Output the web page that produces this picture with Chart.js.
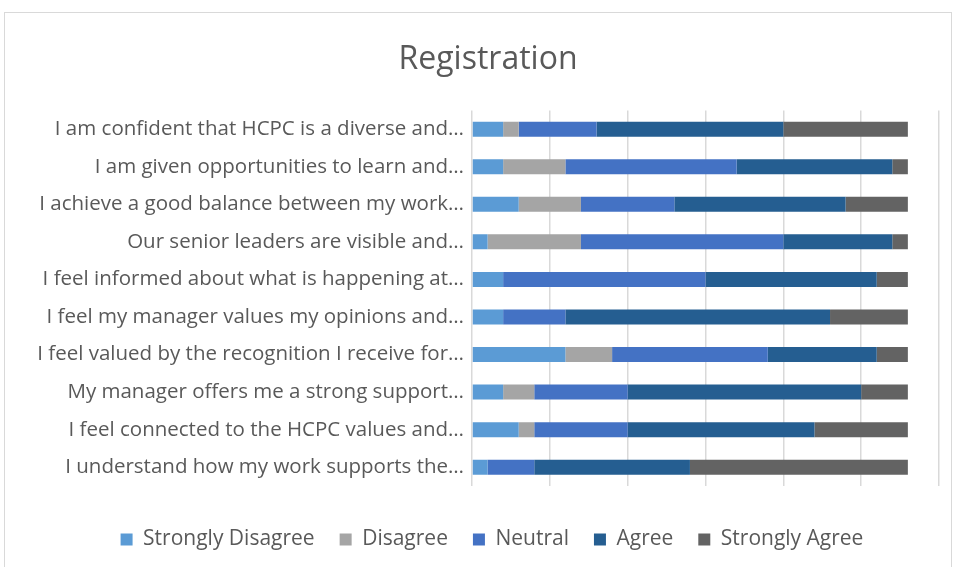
<!DOCTYPE html>
<html>
<head>
<meta charset="utf-8">
<script src="https://cdn.jsdelivr.net/npm/chart.js@4/dist/chart.umd.min.js"></script>
<style>
  html, body { margin: 0; padding: 0; background: #fff; overflow: hidden; }
  #box { position: absolute; left: 4px; top: 12px; width: 948px; height: 560px;
         border: 1px solid #d9d9d9; box-sizing: border-box; background: #fff; }
  #myChart { position: absolute; left: 0; top: 0; }
</style>
</head>
<body>
<div id="box"><canvas id="myChart" width="946" height="558"></canvas></div>
<script>
// Otázky (zkrácené jako v grafu)
const questions = [
    "I am confident that HCPC is a diverse and…",
    "I am given opportunities to learn and…",
    "I achieve a good balance between my work…",
    "Our senior leaders are visible and…",
    "I feel informed about what is happening at…",
    "I feel my manager values my opinions and…",
    "I feel valued by the recognition I receive for…",
    "My manager offers me a strong support…",
    "I feel connected to the HCPC values and…",
    "I understand how my work supports the…"
];

// Počty odpovědí
const stronglyDisagree = [2, 2, 3, 1, 2, 2, 6, 2, 3, 1];
const disagree         = [1, 4, 4, 6, 0, 0, 3, 2, 1, 0];
const neutral          = [5, 11, 6, 13, 13, 4, 10, 6, 6, 3];
const agree            = [12, 10, 11, 7, 11, 17, 7, 15, 12, 10];
const stronglyAgree    = [8, 1, 4, 1, 2, 5, 2, 3, 6, 14];

const seriesNames = ["Strongly Disagree", "Disagree", "Neutral", "Agree", "Strongly Agree"];
const colors = ['#5B9BD5', '#A5A5A5', '#4472C4', '#255E91', '#636363'];
const allSeries = [stronglyDisagree, disagree, neutral, agree, stronglyAgree];

// Posun titulku a legendy doprava (jako v Excelu)
const shiftBlocks = {
    id: 'shiftBlocks',
    afterLayout(chart) {
        if (chart.titleBlock) { chart.titleBlock.left += 16; chart.titleBlock.right += 16; }
        if (chart.legend) { chart.legend.left += 20; chart.legend.right += 20; }
    }
};

const ctx = document.getElementById('myChart').getContext('2d');
new Chart(ctx, {
    type: 'bar',
    data: {
        labels: questions,
        datasets: allSeries.map((vals, i) => ({
            label: seriesNames[i],
            data: vals,
            backgroundColor: colors[i],
            borderWidth: 0,
            barPercentage: 0.4,
            categoryPercentage: 1
        }))
    },
    options: {
        indexAxis: 'y',
        responsive: false,
        animation: false,
        layout: { padding: { left: 0, right: 12, top: 0, bottom: 11 } },
        scales: {
            x: {
                stacked: true,
                min: 0,
                max: 30,
                afterFit: (scale) => { scale.height = 18; },
                ticks: { display: false, stepSize: 5 },
                grid: { color: '#d9d9d9', lineWidth: 1.5, drawTicks: false },
                border: { display: false }
            },
            y: {
                stacked: true,
                afterFit: (scale) => { scale.width = 467; },
                ticks: {
                    color: '#595959',
                    font: { family: 'Open Sans', size: 20.5 },
                    padding: 0
                },
                grid: { display: false },
                border: { display: false }
            }
        },
        plugins: {
            title: {
                display: true,
                text: 'Registration',
                color: '#595959',
                font: { family: 'Open Sans', size: 32, weight: 'normal' },
                padding: { top: 28, bottom: 31 }
            },
            legend: {
                position: 'bottom',
                labels: {
                    color: '#595959',
                    font: { family: 'Open Sans', size: 21 },
                    boxWidth: 12,
                    boxHeight: 12,
                    padding: 25
                }
            },
            tooltip: { enabled: false }
        }
    },
    plugins: [shiftBlocks]
});
</script>
</body>
</html>
